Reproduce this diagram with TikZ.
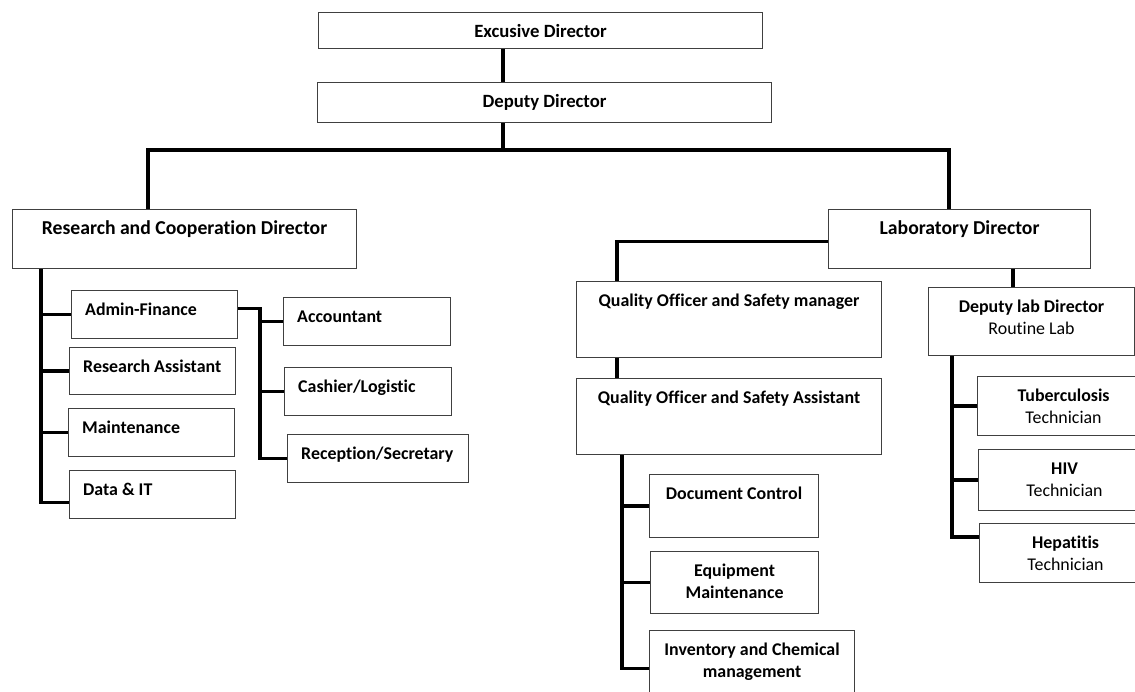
\documentclass[tikz,border=0pt]{standalone}
\usepackage{fontspec}
\setmainfont{Carlito}[Ligatures=NoCommon]
\usetikzlibrary{positioning}

\begin{document}
\begin{tikzpicture}[x=1pt,y=-1pt,
	box/.style={draw=black!75, line width=1.1pt, anchor=north west, inner sep=0pt},
	head/.style={font=\fontsize{17.9}{22}\selectfont\bfseries, inner sep=0pt, anchor=base},
	tophead/.style={head, font=\fontsize{18.7}{22}\selectfont\bfseries},
	bighead/.style={head, font=\fontsize{19.7}{22}\selectfont\bfseries},
	lefthead/.style={head, anchor=base west},
	twoline/.style={head, align=center},
	link/.style={line width=3.4pt}]
	\useasboundingbox (0,0) rectangle (1135,692);
	\clip (0,0) rectangle (1135,692);
	\def\down{-25.5} % baseline below box top
	\def\downtwo{-47.5} % last baseline of a two line text
	\def\indent{14}

	% top of the chart
	\node[box, minimum width=444, minimum height=36] (ed) at (318,12) {};
	\node[box, minimum width=454, minimum height=40] (dd) at (317,82) {};
	\node[tophead] (ed-t) at ([yshift=\down]ed.north) {Excusive Director};
	\node[tophead] (dd-t) at ([yshift=\down]dd.north) {Deputy Director};

	% the two directors
	\node[box, minimum width=344, minimum height=59] (rcd) at (12,209) {};
	\node[box, minimum width=262, minimum height=59] (lab) at (828,209) {};
	\node[bighead] (rcd-t) at ([yshift=\down]rcd.north) {Research and Cooperation Director};
	\node[bighead] (lab-t) at ([yshift=\down]lab.north) {Laboratory Director};

	% research side
	\node[box, minimum width=166, minimum height=48] (admin) at (71,290) {};
	\node[box, minimum width=166, minimum height=47] (rassist) at (69,347) {};
	\node[box, minimum width=166, minimum height=48] (maint) at (68,408) {};
	\node[box, minimum width=166, minimum height=48] (data) at (69,470) {};
	\node[lefthead] (admin-t) at ([xshift=\indent,yshift=\down]admin.north west) {Admin-Finance};
	\node[lefthead] (rassist-t) at ([xshift=\indent,yshift=\down]rassist.north west) {Research Assistant};
	\node[lefthead] (maint-t) at ([xshift=\indent,yshift=\down]maint.north west) {Maintenance};
	\node[lefthead] (data-t) at ([xshift=\indent,yshift=\down]data.north west) {Data \& IT};

	\node[box, minimum width=167, minimum height=48] (acc) at (283,297) {};
	\node[box, minimum width=167, minimum height=48] (cash) at (284,367) {};
	\node[box, minimum width=181, minimum height=48] (recep) at (287,434) {};
	\node[lefthead] (acc-t) at ([xshift=\indent,yshift=\down]acc.north west) {Accountant};
	\node[lefthead] (cash-t) at ([xshift=\indent,yshift=\down]cash.north west) {Cashier/Logistic};
	\node[lefthead] (recep-t) at ([xshift=\indent,yshift=\down]recep.north west) {Reception/Secretary};

	% quality side
	\node[box, minimum width=305, minimum height=76] (qosm) at (576,281) {};
	\node[box, minimum width=305, minimum height=76] (qosa) at (576,378) {};
	\node[head] (qosm-t) at ([yshift=\down]qosm.north) {Quality Officer and Safety manager};
	\node[head] (qosa-t) at ([yshift=\down]qosa.north) {Quality Officer and Safety Assistant};

	\node[box, minimum width=169, minimum height=63] (doc) at (649,474) {};
	\node[box, minimum width=168, minimum height=62] (equip) at (650,551) {};
	\node[box, minimum width=205, minimum height=80] (inv) at (649,630) {};
	\node[head] (doc-t) at ([yshift=\down]doc.north) {Document Control};
	\node[twoline] (equip-t) at ([yshift=\downtwo]equip.north) {Equipment\\Maintenance};
	\node[twoline] (inv-t) at ([yshift=\downtwo]inv.north) {Inventory and Chemical\\management};

	% routine lab side
	\node[box, minimum width=206, minimum height=68] (dld) at (928,287) {};
	\node[box, minimum width=172, minimum height=59] (tb) at (977,376) {};
	\node[box, minimum width=172, minimum height=61] (hiv) at (978,449) {};
	\node[box, minimum width=172, minimum height=59] (hep) at (979,523) {};
	\node[twoline] (dld-t) at ([yshift=\downtwo]dld.north) {Deputy lab Director\\\mdseries Routine Lab};
	\node[twoline] (tb-t) at ([yshift=\downtwo]tb.north) {Tuberculosis\\\mdseries Technician};
	\node[twoline] (hiv-t) at ([yshift=\downtwo]hiv.north) {HIV\\\mdseries Technician};
	\node[twoline] (hep-t) at ([yshift=\downtwo]hep.north) {Hepatitis\\\mdseries Technician};

	% where the vertical lines run
	\coordinate (topx) at (503,0);
	\coordinate (busL) at (148,150);
	\coordinate (busR) at (949,150);
	\coordinate (rbus) at (41,0);
	\coordinate (abus) at (260,0);
	\coordinate (qx) at (617,0);
	\coordinate (qbus) at (622,0);
	\coordinate (lx) at (1013,0);
	\coordinate (dbus) at (952,0);

	\draw[link] (ed.south -| topx) -- (dd.north -| topx);
	\draw[link] (dd.south -| topx) -- (topx |- busL);
	\draw[link] (rcd.north -| busL) -- (busL) -- (busR) -- (lab.north -| busR);

	\draw[link] (rcd.south -| rbus) |- ([yshift=-8]data.west);
	\foreach \n in {admin,rassist,maint}
		\draw[link] (rbus |- \n.west) -- (\n.west);
	\draw[link] ([yshift=6]admin.east) -| (abus |- recep.west) -- (recep.west);
	\foreach \n in {acc,cash}
		\draw[link] (abus |- \n.west) -- (\n.west);

	\draw[link] ([yshift=-2.5]lab.west) -| (qosm.north -| qx);
	\draw[link] (qosm.south -| qx) -- (qosa.north -| qx);
	\draw[link] (qosa.south -| qbus) |- ([yshift=2]inv.west);
	\foreach \n in {doc,equip}
		\draw[link] (qbus |- \n.west) -- (\n.west);

	\draw[link] (lab.south -| lx) -- (dld.north -| lx);
	\draw[link] (dld.south -| dbus) |- ([yshift=16]hep.west);
	\foreach \n in {tb,hiv}
		\draw[link] (dbus |- \n.west) -- (\n.west);
\end{tikzpicture}
\end{document}
